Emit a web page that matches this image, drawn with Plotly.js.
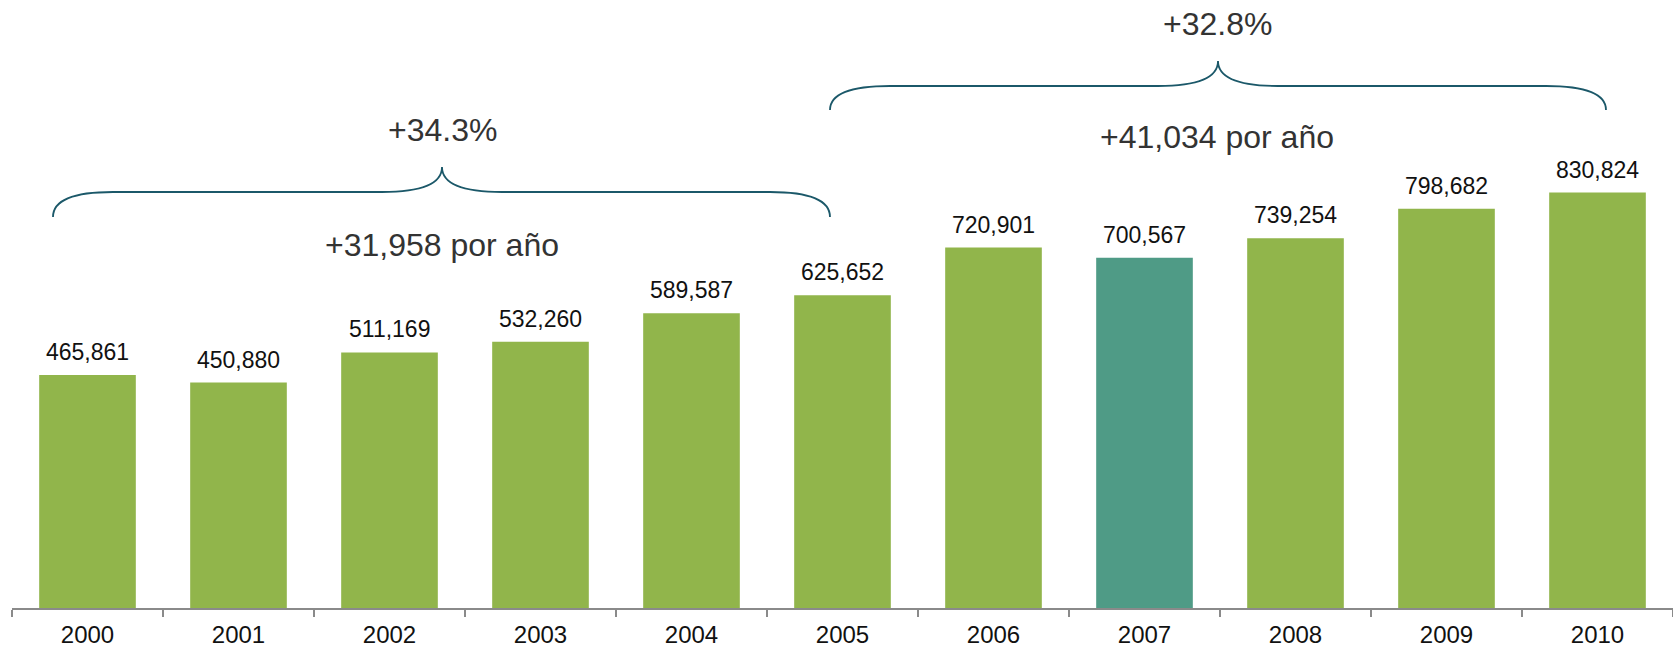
<!DOCTYPE html>
<html>
<head>
<meta charset="utf-8">
<script src="https://cdn.plot.ly/plotly-3.0.1.min.js"></script>
<style>html,body{margin:0;padding:0;background:#fff;}#chart{width:1673px;height:650px;}</style>
</head>
<body>
<div id="chart"></div>
<script>
const years = ["2000","2001","2002","2003","2004","2005","2006","2007","2008","2009","2010"];
const values = [465861, 450880, 511169, 532260, 589587, 625652, 720901, 700567, 739254, 798682, 830824];
const valueLabels = ["465,861","450,880","511,169","532,260","589,587","625,652","720,901","700,567","739,254","798,682","830,824"];
const highlightYear = "2007";
const growthLabels = ["+34.3%", "+32.8%"];
const perYearLabels = ["+31,958 por año", "+41,034 por año"];

const W = 1673, H = 650;
const M = {l: 12, r: 0, t: 0, b: 42};
const PW = W - M.l - M.r, PH = H - M.t - M.b;
const px = x => (x - M.l) / PW;
const py = y => (H - M.b - y) / PH;

function brace(x0, x1, xm, yb, yh, yp, r) {
  const P = (x, y) => px(x).toFixed(5) + "," + py(y).toFixed(5);
  return "M " + P(x0, yb) + " Q " + P(x0, yh) + " " + P(x0 + r, yh) +
    " L " + P(xm - r, yh) + " Q " + P(xm, yh) + " " + P(xm, yp) +
    " Q " + P(xm, yh) + " " + P(xm + r, yh) +
    " L " + P(x1 - r, yh) + " Q " + P(x1, yh) + " " + P(x1, yb);
}

const colors = years.map(y => y === highlightYear ? "#4F9B86" : "#91B54B");

const trace = {
  type: "bar",
  x: years,
  y: values,
  marker: {color: colors, line: {width: 0}},
  hoverinfo: "x+y"
};

const annotations = years.map((yr, i) => ({
  x: i, y: values[i], xref: "x", yref: "y",
  text: valueLabels[i], showarrow: false,
  xanchor: "center", yanchor: "bottom", yshift: 8,
  font: {family: "Liberation Sans, Arial, sans-serif", size: 23, color: "#111"}
}));

const bigFont = {family: "Liberation Sans, Arial, sans-serif", size: 32, color: "#333"};
function bigNote(x, y, text) {
  return {x: px(x), y: py(y), xref: "paper", yref: "paper", xanchor: "center", yanchor: "middle",
          text: text, showarrow: false, font: bigFont};
}
annotations.push(
  bigNote(442, 130, growthLabels[0]),
  bigNote(442, 245, perYearLabels[0]),
  bigNote(1217, 24, growthLabels[1]),
  bigNote(1217, 137, perYearLabels[1])
);

const braceLine = {color: "#1B5869", width: 1.8};
const shapes = [
  {type: "path", xref: "paper", yref: "paper", path: brace(53, 830, 442, 217, 192, 167, 60), line: braceLine},
  {type: "path", xref: "paper", yref: "paper", path: brace(830, 1606, 1218, 110, 86, 61, 60), line: braceLine}
];

const layout = {
  width: W, height: H,
  margin: M,
  paper_bgcolor: "#fff", plot_bgcolor: "#fff",
  showlegend: false,
  bargap: 0.36,
  xaxis: {
    type: "category",
    range: [-0.5, years.length - 0.5], autorange: false,
    showline: true, linecolor: "#8a8a8a", linewidth: 1.5,
    ticks: "outside", tickson: "boundaries", ticklen: 7, tickcolor: "#8a8a8a", tickwidth: 1.5,
    ticklabelstandoff: 5,
    showgrid: false, zeroline: false, tickangle: 0,
    tickfont: {family: "Liberation Sans, Arial, sans-serif", size: 24, color: "#111"}
  },
  yaxis: {
    range: [0, 1216000], autorange: false, visible: false, showgrid: false, zeroline: false, fixedrange: true
  },
  annotations: annotations,
  shapes: shapes
};

Plotly.newPlot("chart", [trace], layout, {displayModeBar: false, staticPlot: true});
</script>
</body>
</html>
